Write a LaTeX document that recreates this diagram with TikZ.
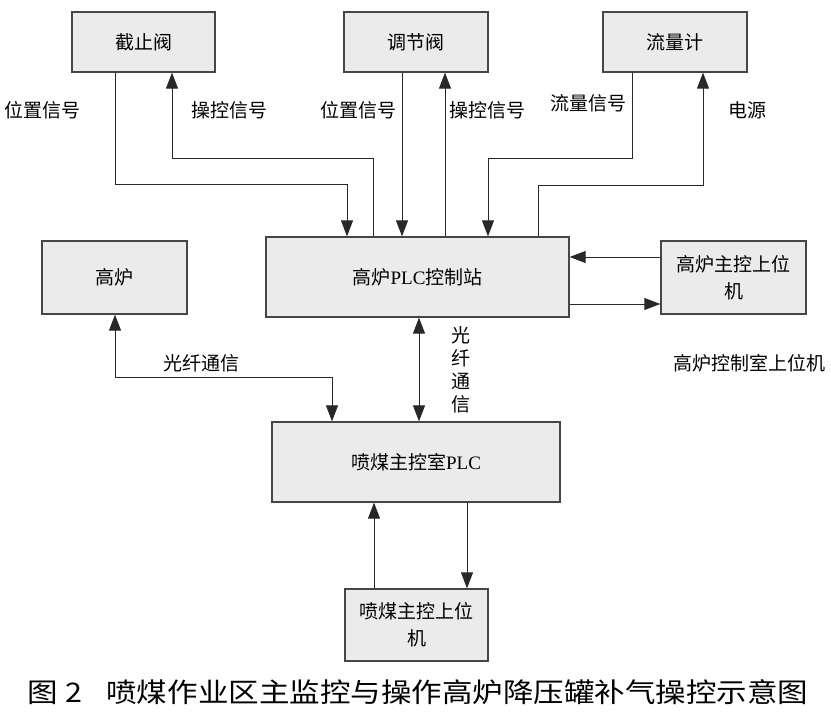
\documentclass[tikz,border=0pt]{standalone}
\usepackage{fontspec}
\setmainfont{Noto Sans CJK SC}
\newfontfamily\lat{Liberation Serif}
\usetikzlibrary{arrows.meta}
\definecolor{boxfill}{RGB}{235,235,235}
\definecolor{boxline}{RGB}{70,70,70}
\definecolor{linecol}{RGB}{40,40,40}
\begin{document}
\begin{tikzpicture}[x=1pt,y=-1pt,
  font=\fontsize{19}{24}\selectfont,
  box/.style={draw=boxline,fill=boxfill,line width=1.3pt,inner sep=0pt,align=center},
  lbl/.style={inner sep=0pt,align=center},
  tip/.tip={Triangle[width=12pt,length=16pt]},
  arr/.style={draw=linecol,line width=1pt,-tip},
  arrtwo/.style={draw=linecol,line width=1pt,tip-tip}]
\useasboundingbox (0,0) rectangle (831,718);
% boxes
\node[box,minimum width=143pt,minimum height=60pt] (jzf) at (143.5,42) {截止阀};
\node[box,minimum width=144pt,minimum height=60pt] (tjf) at (416,42) {调节阀};
\node[box,minimum width=144pt,minimum height=60pt] (llj) at (675,42) {流量计};
\node[box,minimum width=145pt,minimum height=73pt] (gl) at (114.5,277.5) {高炉};
\node[box,minimum width=303pt,minimum height=80pt] (plc) at (417.5,277) {高炉{\lat PLC}控制站};
\node[box,minimum width=145pt,minimum height=73pt,font=\fontsize{19}{27}\selectfont] (zkj) at (733.5,277.5) {高炉主控上位\\机};
\node[box,minimum width=288pt,minimum height=80pt] (pm) at (416,462) {喷煤主控室{\lat PLC}};
\node[box,minimum width=143pt,minimum height=72pt,font=\fontsize{19}{27}\selectfont] (pmj) at (416.5,625) {喷煤主控上位\\机};
% labels
\node[lbl] (l1) at (43,110) {位置信号};
\node[lbl] (l2) at (229,110) {操控信号};
\node[lbl] (l3) at (358,110) {位置信号};
\node[lbl] (l4) at (487,110) {操控信号};
\node[lbl] (l5) at (588,103) {流量信号};
\node[lbl] (l6) at (747,110) {电源};
\node[lbl,font=\fontsize{19}{23}\selectfont] (l8) at (461,370) {光\\纤\\通\\信};
\node[lbl] (l7) at (201,363) {光纤通信};
\node[lbl] (l9) at (749,363) {高炉控制室上位机};
\node[lbl] (cap) at (418,692) {\scalebox{1.13}[1]{\fontsize{27}{30}\selectfont 图 2\hspace{0.8em}喷煤作业区主监控与操作高炉降压罐补气操控示意图}};
% turn points
\coordinate (a1) at (115,184); \coordinate (a2) at (347,184);
\coordinate (b1) at (373,158); \coordinate (b2) at (172,158);
\coordinate (c1) at (402,0);
\coordinate (d1) at (445,0);
\coordinate (e1) at (632,158); \coordinate (e2) at (488,158);
\coordinate (f1) at (538,185); \coordinate (f2) at (703,185);
\coordinate (g1) at (0,257);
\coordinate (h1) at (0,304);
\coordinate (i1) at (419,0);
\coordinate (j1) at (115,377); \coordinate (j2) at (332,377);
\coordinate (k1) at (467,0);
\coordinate (m1) at (374,0);
% connectors
\draw[arr] (jzf.south -| a1) -- (a1) -- (a2) -- (plc.north -| a2);
\draw[arr] (plc.north -| b1) -- (b1) -- (b2) -- (jzf.south -| b2);
\draw[arr] (tjf.south -| c1) -- (plc.north -| c1);
\draw[arr] (plc.north -| d1) -- (tjf.south -| d1);
\draw[arr] (llj.south -| e1) -- (e1) -- (e2) -- (plc.north -| e2);
\draw[arr] (plc.north -| f1) -- (f1) -- (f2) -- (llj.south -| f2);
\draw[arr] (zkj.west |- g1) -- (plc.east |- g1);
\draw[arr] (plc.east |- h1) -- (zkj.west |- h1);
\draw[arrtwo] (plc.south -| i1) -- (pm.north -| i1);
\draw[arrtwo] (gl.south -| j1) -- (j1) -- (j2) -- (pm.north -| j2);
\draw[arr] (pm.south -| k1) -- (pmj.north -| k1);
\draw[arr] (pmj.north -| m1) -- (pm.south -| m1);
\end{tikzpicture}
\end{document}
